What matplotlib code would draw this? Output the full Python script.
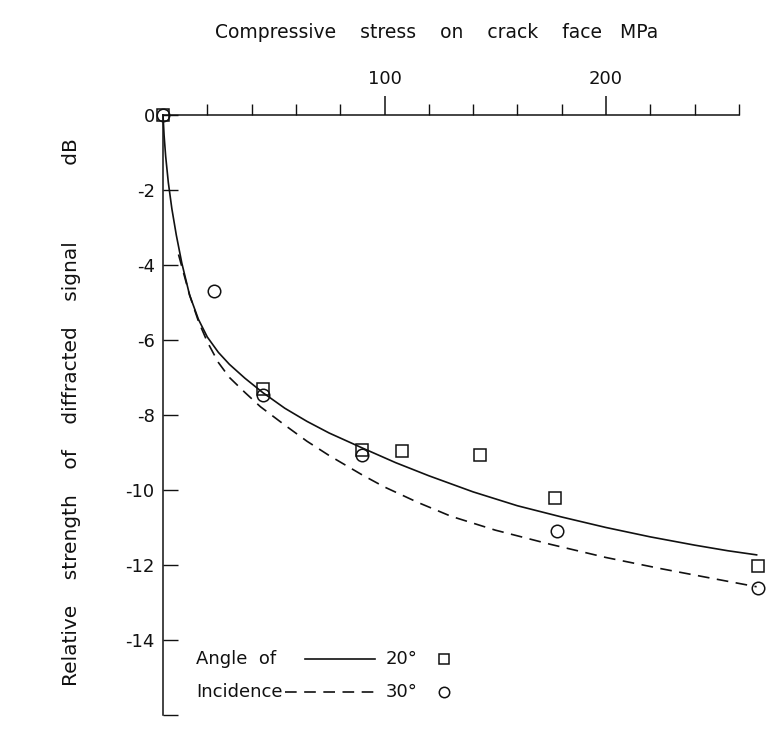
import matplotlib
matplotlib.use("Agg")
import matplotlib.pyplot as plt
from matplotlib.lines import Line2D

plt.rcParams.update({
    "font.family": ["DejaVu Sans"],
    "font.size": 13,
    "text.color": "#111111",
    "axes.edgecolor": "#111111",
    "xtick.color": "#111111",
    "ytick.color": "#111111",
})

INK = "#111111"

# measured points, 20 deg incidence (squares) and 30 deg (circles)
stress_20 = [0, 45, 90, 108, 143, 177, 268.5]
db_20 = [0, -7.3, -8.93, -8.97, -9.07, -10.2, -12.02]
stress_30 = [0, 23, 45, 90, 178, 268.5]
db_30 = [0, -4.68, -7.46, -9.07, -11.1, -12.6]

# hand-drawn trend curves
curve20_x = [0, 0.5, 1.2, 2.4, 4, 6, 8.5, 12, 16, 20, 25, 30, 37, 45, 55,
             65, 75, 90, 105, 120, 140, 160, 180, 200, 220, 240, 255, 268]
curve20_y = [0, -0.55, -1.1, -1.8, -2.5, -3.2, -3.95, -4.8, -5.45, -5.92,
             -6.33, -6.65, -7.02, -7.4, -7.82, -8.17, -8.48, -8.88, -9.27,
             -9.62, -10.05, -10.42, -10.72, -11.0, -11.25, -11.47, -11.62,
             -11.73]
curve30_x = [7, 9, 12, 16, 20, 25, 30, 37, 44, 55, 65, 75, 90, 100, 115,
             130, 150, 175, 200, 225, 250, 268]
curve30_y = [-3.72, -4.15, -4.8, -5.5, -6.05, -6.6, -7.0, -7.4, -7.78,
             -8.27, -8.7, -9.08, -9.6, -9.92, -10.33, -10.7, -11.07, -11.45,
             -11.8, -12.1, -12.38, -12.58]

x_major = [100, 200]
x_minor = [20, 40, 60, 80, 120, 140, 160, 180, 220, 240, 260]
y_ticks = [0, -2, -4, -6, -8, -10, -12, -14, -16]
y_labels = ["0", "-2", "-4", "-6", "-8", "-10", "-12", "-14", ""]

W, H = 782, 740
fig = plt.figure(figsize=(W / 100, H / 100), dpi=100)
fig.patch.set_facecolor("white")

# axes placed in pixels: origin at (163, 115), y = -16 at 715
X0, Y0 = 163, 115
PX_X, PX_Y = 2.215, 37.5
XMAX = 278
ax = fig.add_axes([X0 / W, 1 - (Y0 + 16 * PX_Y) / H,
                   XMAX * PX_X / W, 16 * PX_Y / H])
ax.set_xlim(0, XMAX)
ax.set_ylim(-16, 0)

for side in ("right", "bottom"):
    ax.spines[side].set_visible(False)
ax.spines["top"].set_bounds(0, 260)
ax.spines["left"].set_bounds(-16, 0)
ax.spines["top"].set_linewidth(1.1)
ax.spines["left"].set_linewidth(1.1)

ax.xaxis.set_ticks_position("top")
ax.set_xticks(x_major)
ax.set_xticklabels([str(v) for v in x_major])
ax.set_xticks(x_minor, minor=True)
ax.tick_params(axis="x", which="major", direction="out", length=13.5,
               width=1.1, pad=6, labelsize=13)
ax.tick_params(axis="x", which="minor", direction="out", length=8,
               width=1.0)
ax.set_yticks(y_ticks)
ax.set_yticklabels(y_labels)
ax.tick_params(axis="y", direction="in", length=11, width=1.0, pad=6,
               labelsize=13)

ax.plot(curve20_x, curve20_y, color=INK, lw=1.2, clip_on=False)
ax.plot(curve30_x, curve30_y, color=INK, lw=1.2,
        linestyle=(0, (7, 4.5)), clip_on=False)
ax.plot(stress_20, db_20, linestyle="none", marker="s", ms=8.3, mfc="none",
        mec=INK, mew=1.1, clip_on=False)
ax.plot(stress_30, db_30, linestyle="none", marker="o", ms=9, mfc="none",
        mec=INK, mew=1.1, clip_on=False)

fig.text(437 / W, 1 - 32 / H,
         "Compressive    stress    on    crack    face   MPa",
         ha="center", va="center", fontsize=13.5)
fig.text(72 / W, 1 - 412 / H,
         "Relative    strength    of    diffracted    signal"
         "            dB",
         ha="center", va="center", rotation=90, fontsize=14.5)


# legend drawn by hand in figure pixels
def fx(px):
    return px / W


def fy(py):
    return 1 - py / H


fig.text(fx(196), fy(659), "Angle  of", ha="left", va="center",
         fontsize=13)
fig.text(fx(196), fy(692), "Incidence", ha="left", va="center",
         fontsize=13)
fig.add_artist(Line2D([fx(305), fx(375)], [fy(659), fy(659)], color=INK,
                      lw=1.2))
fig.add_artist(Line2D([fx(285), fx(375)], [fy(692), fy(692)], color=INK,
                      lw=1.2, linestyle=(0, (7, 4.5))))
fig.text(fx(386), fy(659), "20°", ha="left", va="center", fontsize=13)
fig.text(fx(386), fy(692), "30°", ha="left", va="center", fontsize=13)
fig.add_artist(Line2D([fx(444)], [fy(659)], marker="s", ms=7, mfc="none",
                      mec=INK, mew=1.1, linestyle="none"))
fig.add_artist(Line2D([fx(444)], [fy(692)], marker="o", ms=7.5, mfc="none",
                      mec=INK, mew=1.1, linestyle="none"))

fig.savefig("out.png", dpi=100, facecolor="white")
